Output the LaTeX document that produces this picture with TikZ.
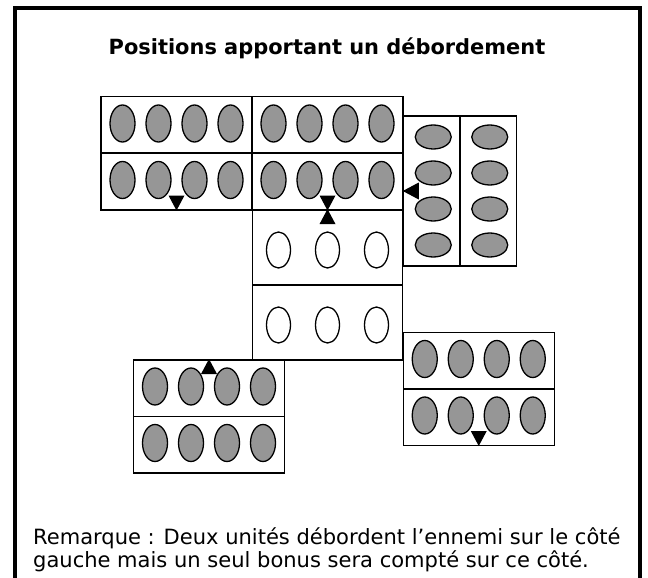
\documentclass[tikz,border=0pt]{standalone}
\usepackage{fontspec}
\setmainfont{DejaVu Sans}
\usetikzlibrary{shapes.geometric}
\definecolor{unitgray}{RGB}{150,150,150}
\tikzset{
  unitbox/.style={draw=black, line width=1.5bp, rectangle, inner sep=0pt, minimum width=151bp, minimum height=56.5bp},
  vbox/.style={draw=black, line width=1.5bp, rectangle, inner sep=0pt, minimum width=56.5bp, minimum height=150bp},
  wbox/.style={draw=black, line width=1.8bp, rectangle, inner sep=0pt, minimum width=150bp, minimum height=75bp},
  gell/.style={draw=black, line width=1.3bp, fill=unitgray, ellipse, inner sep=0pt, minimum width=25bp, minimum height=37bp},
  hell/.style={draw=black, line width=1.3bp, fill=unitgray, ellipse, inner sep=0pt, minimum width=36bp, minimum height=24bp},
  well/.style={draw=black, line width=1.3bp, fill=white, ellipse, inner sep=0pt, minimum width=24bp, minimum height=36bp},
  tri/.style={fill=black},
  frameline/.style={line width=3.5bp, draw=black},
}
\newcommand{\gfour}[1]{%
  \foreach \dx [count=\k] in {-54,-18,18,54}
    \node[gell] (#1e\k) at ([shift={(\dx,-1.5)}]#1.center) {};}
\newcommand{\hfour}[1]{%
  \foreach \dy [count=\k] in {-54,-18,18,54}
    \node[hell] (#1e\k) at ([shift={(1.5,\dy)}]#1.center) {};}
\newcommand{\wthree}[1]{%
  \foreach \dx [count=\k] in {-49,0,49}
    \node[well] (#1e\k) at ([shift={(\dx,2.5)}]#1.center) {};}
\begin{document}
\begin{tikzpicture}[x=1bp,y=-1bp]
\useasboundingbox (0,0) rectangle (648,578);
\clip (0,0) rectangle (648,578);
\fill[white] (0,0) rectangle (648,578);
% frame
\coordinate (fbl) at (15,590);
\coordinate (ftl) at (15,8);
\coordinate (ftr) at (640,8);
\coordinate (fbr) at (640,590);
\draw[frameline] (fbl) -- (ftl) -- (ftr) -- (fbr);
% title
\node[anchor=base, font=\bfseries\fontsize{21}{25}\selectfont] (title) at (327,55) {Positions apportant un débordement};
% top-left unit
\node[unitbox] (b1) at (176.5,125) {};
\node[unitbox] (b2) at (327.5,125) {};
\node[unitbox] (b3) at (176.5,181.5) {};
\node[unitbox] (b4) at (327.5,181.5) {};
\gfour{b1}\gfour{b2}\gfour{b3}\gfour{b4}
% white unit
\node[wbox] (b5) at (327.5,247.5) {};
\node[wbox] (b6) at (327.5,322.5) {};
\wthree{b5}\wthree{b6}
% vertical unit on the right
\node[vbox] (b7) at (431.75,191) {};
\node[vbox] (b8) at (488.25,191) {};
\hfour{b7}\hfour{b8}
% bottom right unit
\node[unitbox] (b9) at (478.75,360.5) {};
\node[unitbox] (b10) at (478.75,417) {};
\gfour{b9}\gfour{b10}
% bottom left unit
\node[unitbox] (b11) at (209,388) {};
\node[unitbox] (b12) at (209,444.5) {};
\gfour{b11}\gfour{b12}
% triangles
\fill[tri] (b3.south) -- ++(-8,-15) -- ++(16,0) -- cycle;
\fill[tri] (b4.south) -- ++(-8,-15) -- ++(16,0) -- cycle;
\fill[tri] (b5.north) -- ++(-8,15) -- ++(16,0) -- cycle;
\fill[tri] (b7.west) -- ++(16,-8.5) -- ++(0,17) -- cycle;
\fill[tri] (b10.south) -- ++(-8,-15) -- ++(16,0) -- cycle;
\fill[tri] (b11.north) -- ++(-8,15) -- ++(16,0) -- cycle;
% remark
\node[anchor=base west, inner sep=0pt, font=\fontsize{21.1}{23}\selectfont] (rem1) at (33,544) {Remarque : Deux unités débordent l’ennemi sur le côté};
\node[anchor=base west, inner sep=0pt, font=\fontsize{21.1}{23}\selectfont] (rem2) at (33,567.5) {gauche mais un seul bonus sera compté sur ce côté.};
\end{tikzpicture}
\end{document}
